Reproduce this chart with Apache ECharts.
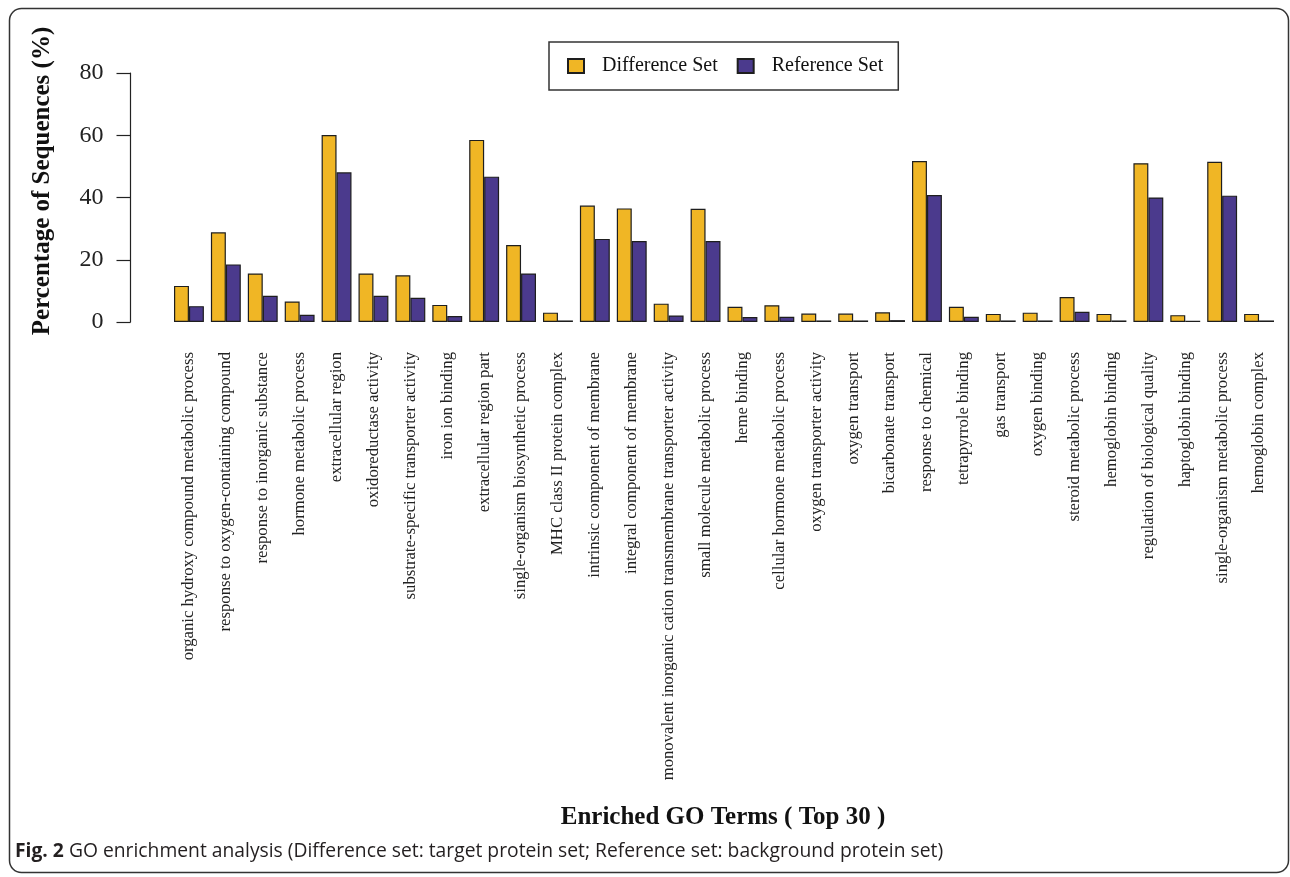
<!DOCTYPE html>
<html lang="en">
<head>
<meta charset="utf-8" />
<title>GO enrichment analysis</title>
<script src="https://cdn.jsdelivr.net/npm/echarts@6/dist/echarts.min.js"></script>
<style>
  html, body { margin: 0; padding: 0; background: #fff; }
  #chart { width: 1290px; height: 877px; }
</style>
</head>
<body>
<div id="chart"></div>
<script>
// GO terms (top 30)
var terms = [
  'organic hydroxy compound metabolic process',
  'response to oxygen-containing compound',
  'response to inorganic substance',
  'hormone metabolic process',
  'extracellular region',
  'oxidoreductase activity',
  'substrate-specific transporter activity',
  'iron ion binding',
  'extracellular region part',
  'single-organism biosynthetic process',
  'MHC class II protein complex',
  'intrinsic component of membrane',
  'integral component of membrane',
  'monovalent inorganic cation transmembrane transporter activity',
  'small molecule metabolic process',
  'heme binding',
  'cellular hormone metabolic process',
  'oxygen transporter activity',
  'oxygen transport',
  'bicarbonate transport',
  'response to chemical',
  'tetrapyrrole binding',
  'gas transport',
  'oxygen binding',
  'steroid metabolic process',
  'hemoglobin binding',
  'regulation of biological quality',
  'haptoglobin binding',
  'single-organism metabolic process',
  'hemoglobin complex'
];

// percentage of sequences
var differenceSet = [11.6, 28.8, 15.6, 6.6, 60.1, 15.6, 15.0, 5.5, 58.5, 24.7,
                     3.0, 37.4, 36.5, 5.9, 36.4, 4.9, 5.4, 2.7, 2.7, 3.1,
                     51.7, 4.9, 2.6, 3.0, 8.0, 2.6, 51.0, 2.2, 51.5, 2.6];
var referenceSet  = [5.1, 18.5, 8.4, 2.3, 48.1, 8.4, 7.8, 1.9, 46.7, 15.6,
                     0.5, 26.7, 26.0, 2.1, 26.0, 1.6, 1.7, 0.5, 0.5, 0.6,
                     40.8, 1.7, 0.5, 0.5, 3.3, 0.5, 40.0, 0.4, 40.6, 0.5];

var yTicks = [0, 20, 40, 60, 80];

var serif = '"Liberation Serif", "Times New Roman", serif';
var sans = '"Open Sans", "Noto Sans", sans-serif';
var yellow = '#F0B625';
var purple = '#4B3A8D';
var edge = '#1e1e1e';

var chart = echarts.init(document.getElementById('chart'));

var option = {
  backgroundColor: '#fff',
  animation: false,
  title: {
    left: 10,
    top: 837,
    text: '{b|Fig. 2} GO enrichment analysis (Difference set: target protein set; Reference set: background protein set)',
    textStyle: {
      fontFamily: sans,
      fontSize: 19.3,
      fontWeight: 'normal',
      color: '#231f20',
      rich: {
        b: { fontFamily: sans, fontSize: 19.3, fontWeight: 'bold', color: '#231f20' }
      }
    }
  },
  legend: {
    left: 549,
    top: 42,
    padding: [14, 15, 14, 18],
    itemWidth: 16,
    itemHeight: 14,
    itemGap: 19,
    borderColor: '#333',
    borderWidth: 1.5,
    borderRadius: 0,
    icon: 'rect',
    textStyle: {
      fontFamily: serif,
      fontSize: 20,
      color: '#111',
      padding: [0, 0, 0, 13],
      lineHeight: 20
    },
    data: ['Difference Set', 'Reference Set']
  },
  grid: {
    left: 170.5,
    right: 12.5,
    top: 73,
    bottom: 555,
    containLabel: false
  },
  xAxis: {
    type: 'category',
    data: terms,
    axisLine: { show: false },
    axisTick: { show: false },
    axisLabel: {
      rotate: 90,
      interval: 0,
      margin: 30,
      fontFamily: serif,
      fontSize: 16.7,
      color: '#222'
    }
  },
  yAxis: {
    type: 'value',
    min: 0,
    max: 80,
    interval: 20,
    offset: 40,
    splitLine: { show: false },
    axisLine: { show: true, lineStyle: { color: '#222', width: 1.2 } },
    axisTick: { show: true, length: 14, lineStyle: { color: '#222', width: 1.2 } },
    axisLabel: {
      margin: 27,
      fontFamily: serif,
      fontSize: 24,
      color: '#222',
      formatter: function (v) { return yTicks.indexOf(v) >= 0 ? String(v) : ''; }
    }
  },
  series: [
    {
      name: 'Difference Set',
      type: 'bar',
      data: differenceSet,
      barGap: '0%',
      barCategoryGap: '19%',
      itemStyle: { color: yellow, borderColor: edge, borderWidth: 1.2 }
    },
    {
      name: 'Reference Set',
      type: 'bar',
      data: referenceSet,
      itemStyle: { color: purple, borderColor: edge, borderWidth: 1.2 }
    }
  ],
  graphic: [
    {
      type: 'rect',
      silent: true,
      shape: { x: 9.5, y: 8.5, width: 1279, height: 864, r: 12 },
      style: { fill: null, stroke: '#333', lineWidth: 1.5 }
    },
    {
      type: 'text',
      x: 43,
      y: 181,
      rotation: Math.PI / 2,
      style: {
        text: 'Percentage of Sequences (%)',
        font: 'bold 25px ' + serif,
        fill: '#111',
        textAlign: 'center',
        textVerticalAlign: 'middle'
      }
    },
    {
      type: 'text',
      x: 723,
      y: 818,
      style: {
        text: 'Enriched GO Terms ( Top 30 )',
        font: 'bold 25px ' + serif,
        fill: '#111',
        textAlign: 'center',
        textVerticalAlign: 'middle'
      }
    }
  ]
};

chart.setOption(option);
</script>
</body>
</html>
